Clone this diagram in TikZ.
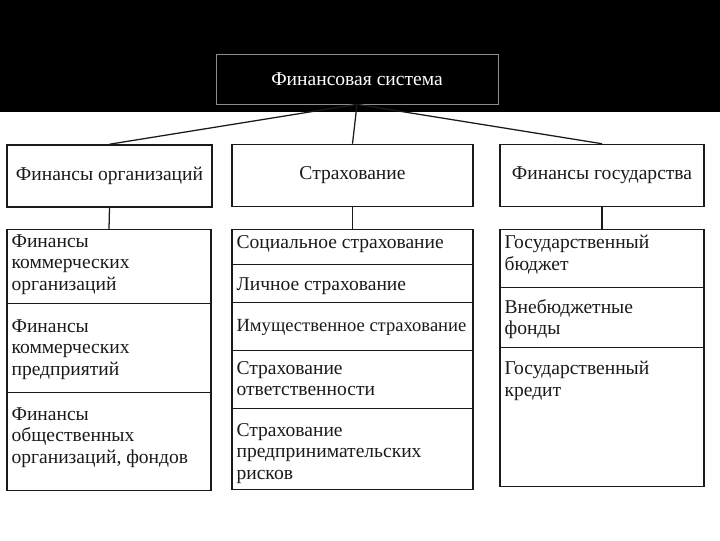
\documentclass[tikz,border=0pt]{standalone}
\usepackage{fontspec}
\setmainfont{Liberation Serif}
\usetikzlibrary{positioning}
\definecolor{inkline}{HTML}{1A1A1A}
\definecolor{bandcol}{HTML}{000000}
\definecolor{rimcol}{HTML}{8C8C8C}
\newcommand{\pxu}{0.025cm}
\newcommand{\bodyfont}{\fontsize{13.9}{15.4}\selectfont}
\newcommand{\tightfont}{\fontsize{13.2}{15.4}\selectfont}

\begin{document}
\begin{tikzpicture}[
  x=0.025cm, y=-0.025cm,
  font=\bodyfont,
  % top box sits on the black band
  topbox/.style={draw=rimcol, line width=0.5pt, fill=bandcol, text=white,
                 minimum width=282*\pxu, minimum height=50*\pxu},
  hbox/.style={draw=inkline, line width=1.1pt, fill=white, text=inkline,
               minimum height=62*\pxu},
  sec/.style={draw=inkline, line width=1.0pt, anchor=north, text=inkline},
  sectxt/.style={anchor=north west, align=left, inner sep=0pt,
                 xshift=5*\pxu, yshift=-#1*\pxu, text=inkline},
  sectxt/.default=5,
  link/.style={draw=inkline, line width=0.9pt},
]
\useasboundingbox (0,0) rectangle (720,540);

% ---- band ----
\fill[bandcol] (0,0) rectangle (720,112);
\node[topbox](fs) at (357,79) {Финансовая система};

% ---- top row ----
\node[hbox, minimum width=205*\pxu](org) at (109.5,176) {Финансы организаций};
\node[hbox, minimum width=241*\pxu](ins) at (352.5,175.5) {Страхование};
\node[hbox, minimum width=204*\pxu](gov) at (602,175.5) {Финансы государства};

% ---- organisations ----
\node[sec, minimum width=204*\pxu, minimum height=74*\pxu,
      label={[sectxt=5]north west:{Финансы\\коммерческих\\организаций}}](o1) at (109,229) {};
\node[sec, minimum width=204*\pxu, minimum height=89*\pxu,
      label={[sectxt=16]north west:{Финансы\\коммерческих\\предприятий}}](o2) at (109,303) {};
\node[sec, minimum width=204*\pxu, minimum height=98*\pxu,
      label={[sectxt=15]north west:{Финансы\\общественных\\организаций, фондов}}](o3) at (109,392) {};

% ---- insurance ----
\node[sec, minimum width=241*\pxu, minimum height=35*\pxu,
      label={[sectxt=6]north west:{Социальное страхование}}](i1) at (352.5,229) {};
\node[sec, minimum width=241*\pxu, minimum height=38*\pxu,
      label={[sectxt=13]north west:{Личное страхование}}](i2) at (352.5,264) {};
\node[sec, minimum width=241*\pxu, minimum height=48*\pxu,
      label={[sectxt=17, font=\tightfont]north west:{Имущественное страхование}}](i3) at (352.5,302) {};
\node[sec, minimum width=241*\pxu, minimum height=58*\pxu,
      label={[sectxt=11]north west:{Страхование\\ответственности}}](i4) at (352.5,350) {};
\node[sec, minimum width=241*\pxu, minimum height=81*\pxu,
      label={[sectxt=15]north west:{Страхование\\предпринимательских\\рисков}}](i5) at (352.5,408) {};

% ---- state ----
\node[sec, minimum width=204*\pxu, minimum height=58*\pxu,
      label={[sectxt=6]north west:{Государственный\\бюджет}}](g1) at (602,229) {};
\node[sec, minimum width=204*\pxu, minimum height=60*\pxu,
      label={[sectxt=12]north west:{Внебюджетные\\фонды}}](g2) at (602,287) {};
\node[sec, minimum width=204*\pxu, minimum height=139*\pxu,
      label={[sectxt=14]north west:{Государственный\\кредит}}](g3) at (602,347) {};

% ---- links ----
\draw[link] (fs.south) -- (org.north);
\draw[link] (fs.south) -- (ins.north);
\draw[link] (fs.south) -- (gov.north);
\draw[link] (org.south) -- (o1.north);
\draw[link] (ins.south) -- (i1.north);
\draw[link] (gov.south) -- (g1.north);

\end{tikzpicture}
\end{document}
